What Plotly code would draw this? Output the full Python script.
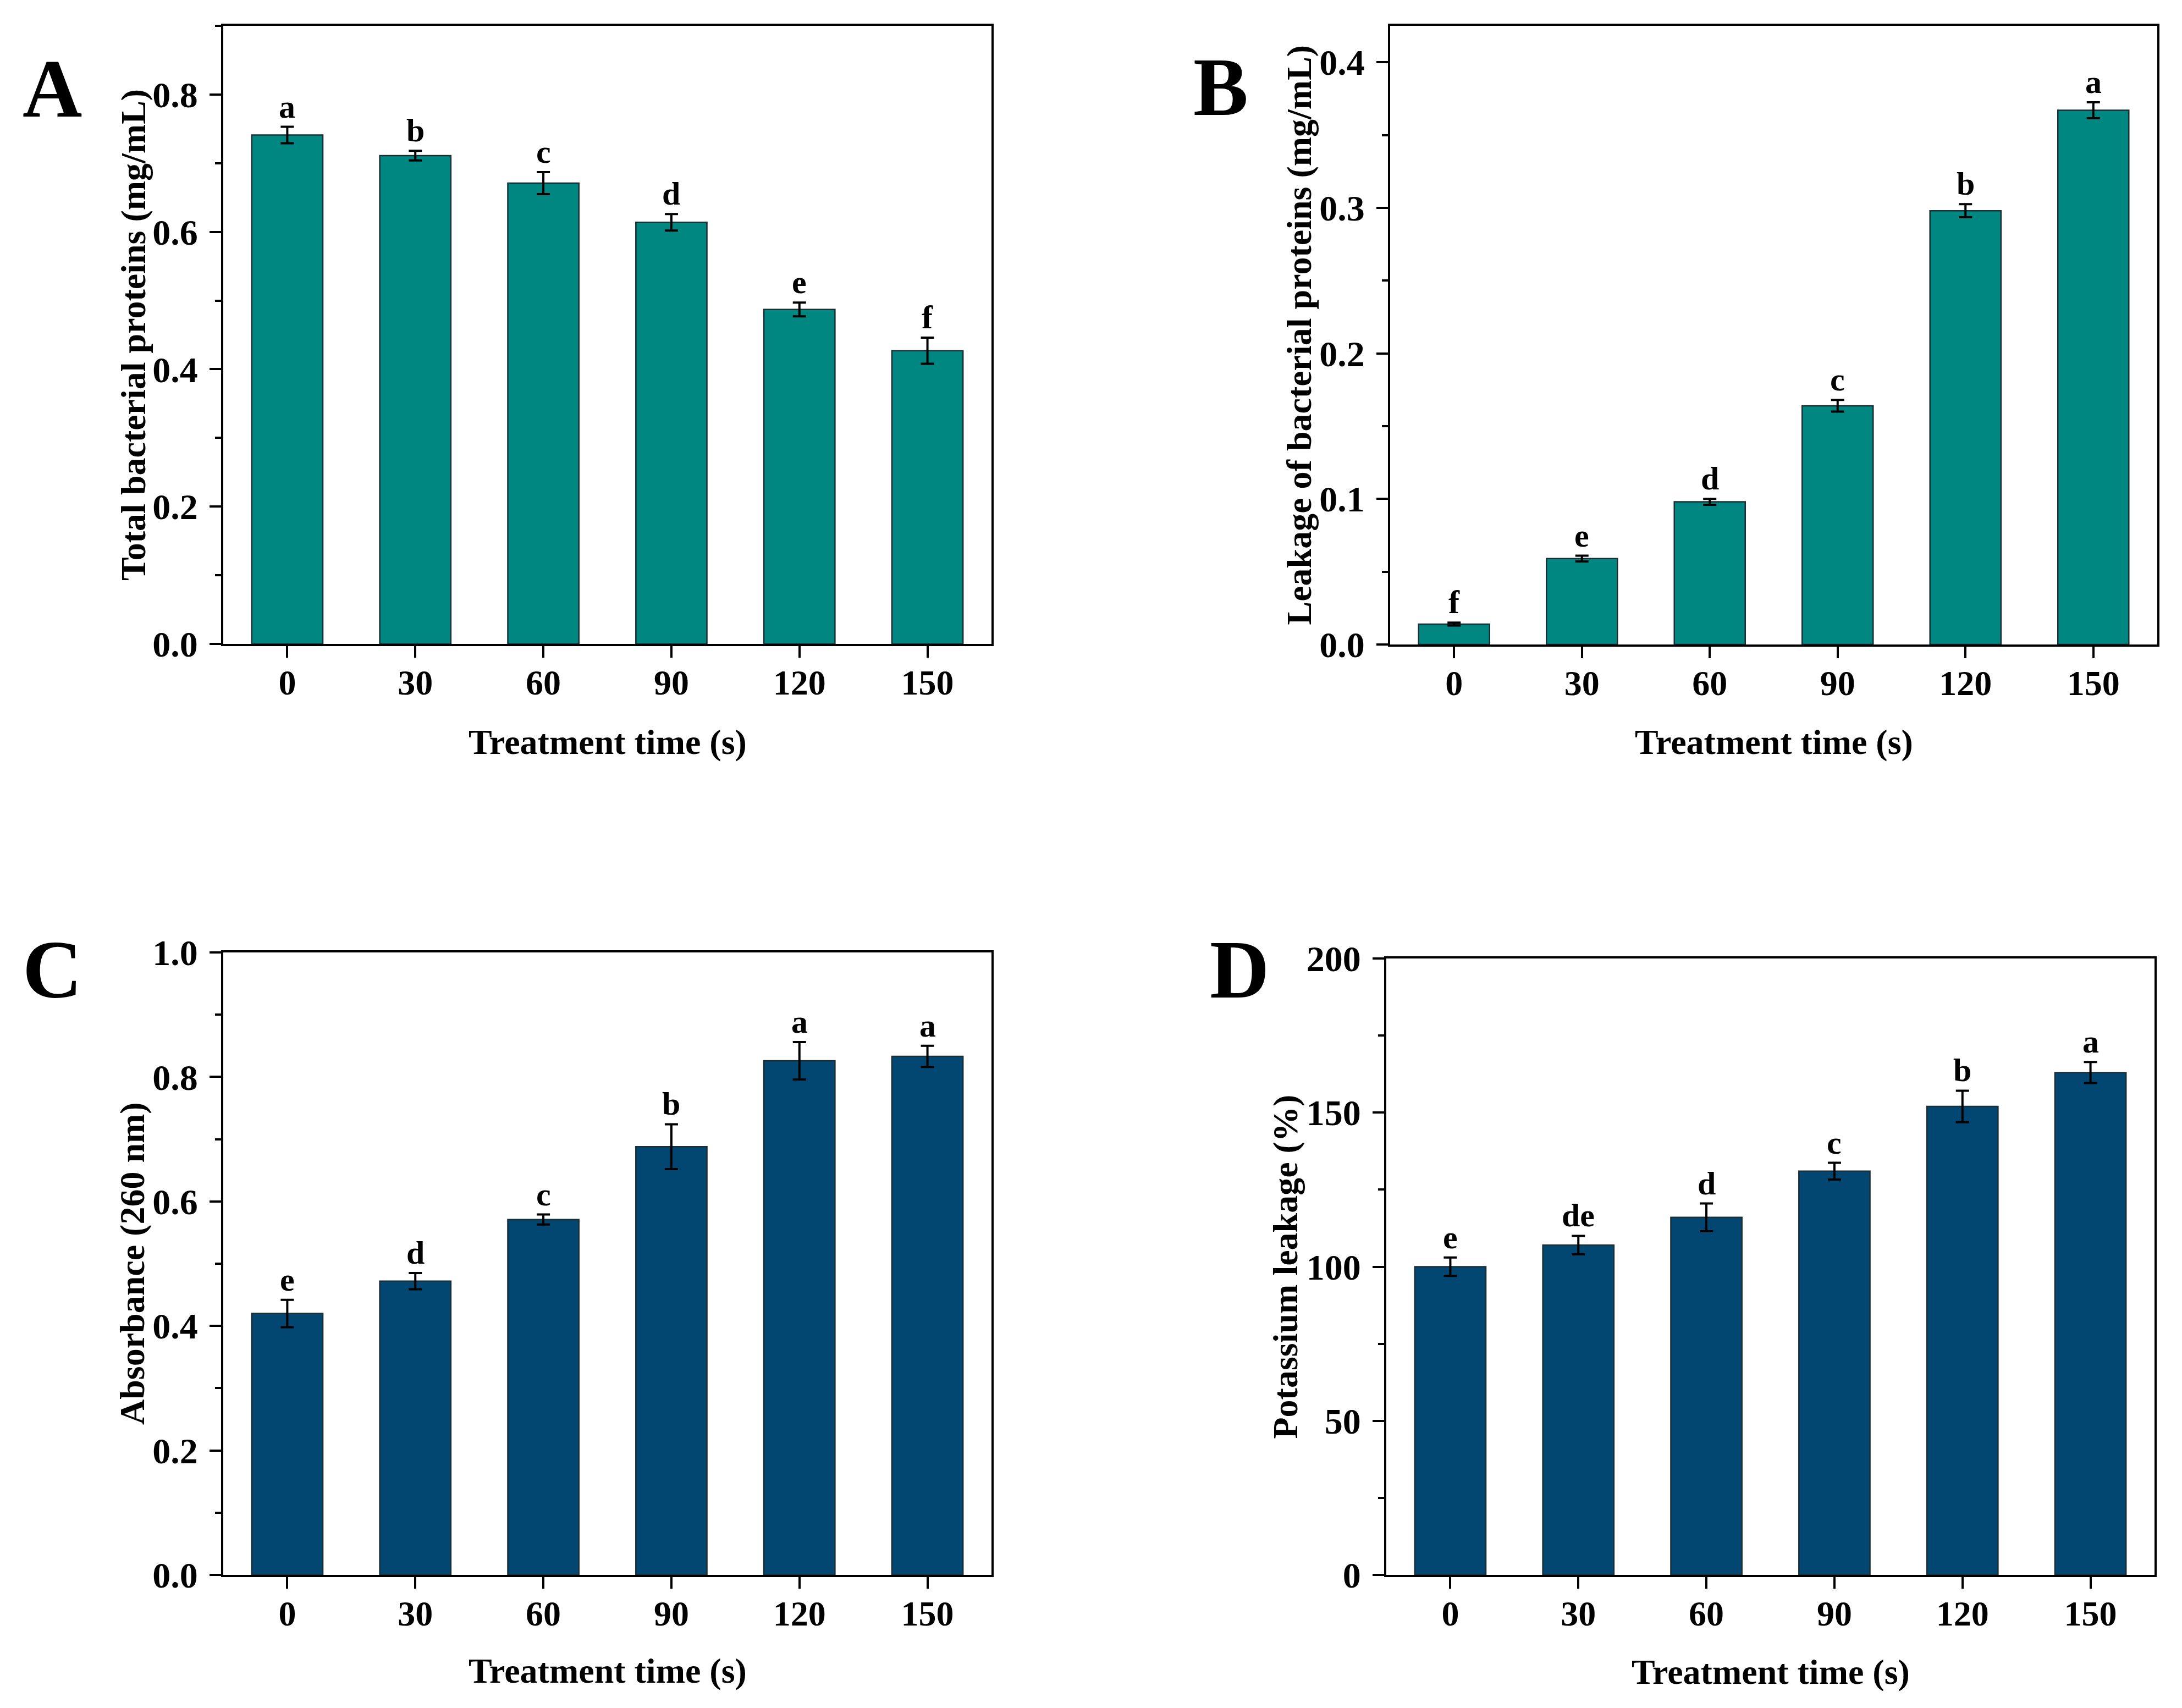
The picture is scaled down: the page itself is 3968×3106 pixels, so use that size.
import plotly.graph_objects as go

# ---------------- data ----------------
times = ["0", "30", "60", "90", "120", "150"]

total_protein = [0.741, 0.711, 0.671, 0.614, 0.487, 0.427]
total_protein_err = [0.012, 0.007, 0.016, 0.012, 0.010, 0.019]
total_protein_sig = ["a", "b", "c", "d", "e", "f"]

leak_protein = [0.014, 0.059, 0.098, 0.164, 0.298, 0.367]
leak_protein_err = [0.001, 0.002, 0.002, 0.004, 0.0045, 0.0055]
leak_protein_sig = ["f", "e", "d", "c", "b", "a"]

absorbance = [0.420, 0.472, 0.571, 0.688, 0.826, 0.833]
absorbance_err = [0.022, 0.013, 0.008, 0.036, 0.030, 0.017]
absorbance_sig = ["e", "d", "c", "b", "a", "a"]

potassium = [100.0, 107.0, 116.0, 131.0, 152.0, 163.0]
potassium_err = [3.0, 3.0, 4.5, 2.7, 5.1, 3.4]
potassium_sig = ["e", "de", "d", "c", "b", "a"]

panel_letters = ["A", "B", "C", "D"]
y_titles = ["Total bacterial proteins (mg/mL)",
            "Leakage of bacterial proteins (mg/mL)",
            "Absorbance (260 nm)",
            "Potassium leakage (%)"]
x_title = "Treatment time (s)"

# ---------------- style / layout ----------------
W, H = 3968, 3106
OFF = 8  # page body margin compensation (px)
FONT = "Liberation Serif"
TEAL = "#008781"
NAVY = "#024772"

# plot-area pixel boxes (left, right, top, bottom) in page pixels
boxes = [(406, 1803, 47, 1171),
         (2528, 3923, 47, 1172),
         (406, 1803, 1732, 2864),
         (2521, 3918, 1743, 2864)]
yranges = [[0, 0.9], [0, 0.425], [0, 1.0], [0, 200]]
ydticks = [0.2, 0.1, 0.2, 50]
ytickfmt = [".1f", ".1f", ".1f", "d"]
colors = [TEAL, TEAL, NAVY, NAVY]
series = [(total_protein, total_protein_err, total_protein_sig),
          (leak_protein, leak_protein_err, leak_protein_sig),
          (absorbance, absorbance_err, absorbance_sig),
          (potassium, potassium_err, potassium_sig)]
ytitle_x = [242, 2362, 240, 2337]
xtitle_y = [1350, 1350, 3038, 3040]
letter_pos = [(95, 161), (2220, 158), (95, 1763), (2254, 1763)]


def px(xp):
    return (xp - OFF) / W


def py(yp):
    return 1 - (yp - OFF) / H


fig = go.Figure()
annotations = []
layout_axes = {}

for i in range(4):
    l, r, t, b = boxes[i]
    vals, errs, sig = series[i]
    xa = "x" if i == 0 else f"x{i+1}"
    ya = "y" if i == 0 else f"y{i+1}"
    fig.add_trace(go.Bar(
        x=times, y=vals, xaxis=xa, yaxis=ya, width=0.555,
        marker=dict(color=colors[i], line=dict(color="#1c2e33", width=2.5)),
        error_y=dict(type="data", array=errs, visible=True, color="black",
                     thickness=4, width=12),
        showlegend=False))

    xkey = "xaxis" if i == 0 else f"xaxis{i+1}"
    ykey = "yaxis" if i == 0 else f"yaxis{i+1}"
    layout_axes[xkey] = dict(
        domain=[px(l), px(r)], anchor=ya, type="category", automargin=False,
        range=[-0.5, 5.5], showline=True, linecolor="black", linewidth=4,
        mirror=True, ticks="outside", ticklen=21, tickwidth=3.5,
        tickcolor="black", showgrid=False, zeroline=False,
        ticklabelstandoff=-10,
        tickfont=dict(family=FONT, size=64, color="black", weight="bold"))
    layout_axes[ykey] = dict(
        domain=[py(b), py(t)], anchor=xa, range=yranges[i],
        automargin=False,
        dtick=ydticks[i], tick0=0, tickformat=ytickfmt[i],
        showline=True, linecolor="black", linewidth=4, mirror=True,
        ticks="outside", ticklen=21, tickwidth=3.5, tickcolor="black",
        minor=dict(dtick=ydticks[i] / 2, ticks="outside", ticklen=11,
                   tickwidth=3.5, tickcolor="black", showgrid=False),
        showgrid=False, zeroline=False, ticklabelstandoff=8,
        tickfont=dict(family=FONT, size=66, color="black", weight="bold"))

    # significance letters
    for j, (v, e, s) in enumerate(zip(vals, errs, sig)):
        annotations.append(dict(
            x=j, y=v + e, xref=xa, yref=ya, text=s, showarrow=False,
            xanchor="center", yanchor="bottom", yshift=2,
            font=dict(family=FONT, size=60, color="black", weight="bold")))

    # axis titles
    annotations.append(dict(
        x=px(ytitle_x[i]), y=py((t + b) / 2), xref="paper", yref="paper",
        text=y_titles[i], textangle=-90, showarrow=False,
        xanchor="center", yanchor="middle",
        font=dict(family=FONT, size=64, color="black", weight="bold")))
    annotations.append(dict(
        x=px((l + r) / 2), y=py(xtitle_y[i]), xref="paper", yref="paper",
        text=x_title, showarrow=False, xanchor="center", yanchor="middle",
        font=dict(family=FONT, size=64, color="black", weight="bold")))
    # panel letters
    lx, ly = letter_pos[i]
    annotations.append(dict(
        x=px(lx), y=py(ly), xref="paper", yref="paper",
        text=panel_letters[i], showarrow=False, xanchor="center",
        yanchor="middle",
        font=dict(family=FONT, size=150, color="black", weight="bold")))

fig.update_layout(
    width=W, height=H,
    margin=dict(l=0, r=0, t=0, b=0, pad=0, autoexpand=False),
    paper_bgcolor="white", plot_bgcolor="white",
    font=dict(family=FONT, color="black", weight="bold"),
    annotations=annotations, bargap=0.45, **layout_axes)

fig.write_html("out.html")
